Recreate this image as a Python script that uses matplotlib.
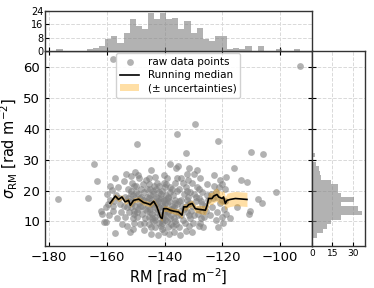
import numpy as np
import matplotlib
matplotlib.use("Agg")
import matplotlib.pyplot as plt

# Puntos (RM, sigma_RM)
rm = [-177.1, -166.7, -164.5, -163.4, -161.7, -162.0, -161.0,
      -160.2, -159.5, -159.0, -160.0, -159.3, -158.8, -160.4,
      -157.9, -157.1, -158.2, -157.5, -156.8, -158.0, -157.3, -156.6, -157.8,
      -155.8, -155.0, -156.0, -154.8, -155.4,
      -153.9, -153.2, -152.8, -153.6, -152.5, -154.0, -153.0, -152.3, -153.4, -152.7, -154.1,
      -151.9, -151.7, -151.5, -151.2, -150.8, -150.5, -151.0, -150.3, -151.8, -150.7,
      -151.4, -150.2, -151.1, -150.6, -151.6, -150.4, -151.3, -150.9, -150.1,
      -149.5, -149.0, -148.5, -149.2, -148.2, -149.7, -148.8, -148.0, -149.4, -148.4,
      -149.8, -148.6, -149.1, -148.1, -149.6,
      -147.2, -146.5, -147.0, -146.2, -147.5, -146.8, -146.0, -147.7, -146.4, -147.3,
      -146.1, -146.9, -147.6,
      -144.7, -144.6, -145.5, -145.0, -144.2, -145.3, -144.0, -145.6, -144.4, -145.1,
      -143.9, -144.8, -145.4, -144.1, -145.2, -143.8, -144.9, -145.7, -144.3, -145.0,
      -144.5, -143.7, -145.5,
      -143.0, -142.5, -142.0, -143.3, -142.2, -141.8, -143.5, -142.8, -142.0, -143.1,
      -141.7, -142.6, -143.4, -142.3, -141.9, -142.9, -143.2, -142.4, -142.7,
      -141.0, -140.5, -141.3, -140.0, -140.8, -139.8, -141.4, -140.2, -140.7, -141.1,
      -139.7, -140.4, -141.5, -140.1, -140.9, -139.6, -141.2, -140.6, -140.3, -139.9,
      -141.0, -140.4, -139.8,
      -138.0, -139.0, -138.5, -139.2, -138.2, -137.8, -139.4, -138.7, -137.6, -138.9,
      -138.3, -139.1, -137.9, -138.6, -139.3, -138.1, -137.7, -138.8, -139.0,
      -136.2, -135.7, -135.4, -137.0, -136.5, -136.8, -135.9, -137.2, -136.0, -136.6,
      -135.6, -137.1, -136.3, -135.8, -136.9, -136.4, -135.5, -137.3, -136.1, -136.7,
      -134.8, -134.2, -135.0, -133.6, -134.5, -133.9, -134.9, -133.4, -134.3, -135.1,
      -133.7, -134.6, -133.3,
      -132.5, -131.7, -132.8, -132.0, -131.5, -132.6, -131.3, -132.9, -131.8, -132.2,
      -131.4, -132.7, -131.9, -132.4, -131.2, -132.1, -131.6, -132.3,
      -129.5, -130.5, -130.0, -129.7, -130.7, -129.3, -130.2, -129.9, -130.8, -129.2, -130.4,
      -128.5, -128.0, -127.5, -128.7, -127.2, -128.2, -127.8, -127.0, -128.4, -127.4,
      -128.8, -127.6, -127.1, -128.1,
      -126.0, -125.5, -126.4, -125.2, -125.8, -126.6, -125.0,
      -124.0, -123.5, -123.0, -124.4, -123.2, -122.8,
      -121.5, -122.0, -121.8, -121.2, -122.3, -121.0, -120.8, -121.6, -122.1,
      -120.0, -119.5, -119.0, -120.2, -118.8, -119.7, -119.2, -118.6, -120.3,
      -117.5, -116.1, -115.0, -113.5,
      -110.1, -111.5, -110.9, -110.3, -106.0, -107.6, -106.3, -101.3, -93.0]

sigma = [17.1, 17.5, 28.5, 23.1, 12.5, 13.5, 9.8,
         9.8, 15.5, 17.0, 19.0, 12.0, 21.5, 14.5,
         62.7, 6.2, 20.1, 16.5, 18.5, 13.5, 24.0, 11.0, 15.0,
         17.5, 13.0, 21.0, 9.0, 15.5,
         18.0, 14.5, 20.5, 11.5, 16.5, 23.0, 8.5, 13.0, 25.5, 17.5, 15.0,
         6.5, 24.7, 19.0, 16.0, 13.5, 21.5, 11.0, 17.5, 14.5, 9.5,
         22.5, 15.0, 18.5, 12.5, 20.0, 26.0, 16.5, 7.5, 19.5,
         35.0, 23.9, 17.5, 14.0, 20.5, 11.5, 16.0, 12.5, 19.0, 9.0,
         21.5, 15.0, 25.0, 18.0, 13.0,
         7.3, 16.5, 19.5, 13.5, 22.0, 11.0, 18.0, 15.0, 23.5, 9.5,
         20.5, 14.0, 17.0,
         8.1, 26.6, 17.5, 14.0, 20.0, 11.5, 15.5, 22.0, 12.5, 18.5,
         10.0, 16.0, 24.0, 19.0, 13.0, 21.5, 6.0, 15.0, 17.0, 20.5,
         11.0, 14.5, 9.0,
         18.0, 14.0, 21.5, 11.5, 16.5, 9.5, 24.5, 13.0, 19.5, 15.5,
         12.0, 22.5, 8.0, 17.5, 14.5, 20.5, 10.5, 5.5, 16.0,
         10.5, 14.5, 17.5, 12.0, 20.0, 16.0, 8.5, 22.5, 11.0, 15.0,
         18.5, 6.5, 13.0, 25.0, 9.5, 14.0, 19.0, 16.5, 12.5, 21.0,
         7.5, 17.0, 10.5,
         28.5, 13.5, 16.5, 10.0, 19.5, 12.0, 22.0, 8.0, 15.0, 18.0,
         11.0, 24.0, 14.0, 6.0, 16.0, 21.0, 9.0, 13.0, 17.5,
         27.4, 38.4, 27.8, 14.0, 17.0, 11.0, 20.0, 8.5, 13.0, 22.5,
         15.5, 18.5, 10.0, 24.0, 6.5, 16.0, 12.0, 20.5, 9.0, 14.5,
         13.5, 17.0, 20.5, 10.5, 24.0, 15.0, 8.0, 19.0, 12.0, 16.5,
         22.5, 5.5, 14.0,
         32.1, 27.2, 14.5, 18.0, 12.0, 21.0, 16.0, 9.5, 23.5, 13.0,
         19.5, 7.0, 15.5, 25.5, 11.0, 17.0, 8.5, 20.0,
         41.5, 15.0, 19.0, 12.0, 22.5, 16.5, 9.5, 25.5, 13.5, 18.0, 6.5,
         14.0, 17.5, 11.0, 21.0, 15.5, 8.5, 24.0, 19.5, 12.5, 16.5,
         26.5, 9.5, 13.5, 20.5,
         15.0, 18.5, 11.5, 22.0, 13.5, 8.0, 17.0,
         19.0, 14.5, 21.5, 12.0, 17.5, 25.0,
         36.0, 18.0, 13.0, 21.0, 10.5, 16.0, 23.5, 8.0, 19.5,
         17.0, 14.0, 20.5, 11.5, 24.5, 9.5, 16.5, 12.5, 22.0,
         11.0, 27.2, 14.5, 23.5,
         32.6, 22.8, 12.5, 13.2, 31.8, 17.1, 16.1, 19.5, 60.5]

# Mediana movil y su incertidumbre
med_x = [-158.9, -157.1, -156.0, -154.8, -153.7, -152.5, -151.9, -150.8, -149.0,
         -147.3, -146.1, -145.0, -143.8, -142.7, -141.5, -140.9, -140.4, -139.2,
         -138.1, -136.9, -135.2, -134.0, -133.4, -132.3, -131.7, -130.5, -129.4,
         -128.2, -125.9, -125.3, -124.8, -123.6, -123.0, -121.9, -121.3, -120.1,
         -119.6, -119.0, -118.4, -117.3, -115.5, -111.5]
med_y = [15.9, 18.2, 17.1, 17.9, 16.3, 16.8, 15.2, 16.8, 17.2,
         16.1, 15.8, 15.4, 16.5, 14.7, 11.4, 10.9, 14.1, 14.1,
         13.6, 13.3, 13.0, 12.0, 14.7, 14.7, 15.4, 15.8, 14.1,
         13.9, 13.6, 15.2, 17.4, 17.4, 18.2, 18.7, 17.9, 17.4,
         17.9, 15.8, 16.8, 17.1, 17.4, 17.1]
med_err = [0.8, 0.8, 0.8, 0.8, 0.8, 0.8, 0.8, 0.8, 0.8,
           0.8, 0.8, 0.8, 0.8, 0.9, 0.9, 0.9, 0.9, 0.9,
           0.9, 0.9, 1.0, 1.0, 1.0, 1.0, 1.0, 1.1, 1.2,
           1.3, 1.5, 1.8, 1.9, 2.0, 2.1, 2.2, 2.2, 2.2,
           2.2, 2.2, 2.3, 2.3, 2.3, 2.3]

# Histogramas (cuentas por bin)
rm_edges = np.linspace(-177.5, -93.0, 41)
rm_counts = [1, 0, 0, 0, 0, 1, 2, 3, 7, 9, 5, 11, 19, 15, 13, 23, 19, 23, 19, 20,
             13, 18, 11, 14, 7, 6, 9, 9, 1, 2, 1, 3, 0, 3, 0, 0, 1, 0, 0, 1]
sig_edges = np.linspace(4.7, 62.7, 41)
sig_counts = [4, 8, 11, 14, 21, 37, 34, 21, 31, 21, 19, 19, 14, 7, 6, 5, 3, 1, 2, 1,
              1, 0, 1, 0, 1, 1, 0, 0, 0, 0, 0, 0, 0, 0, 0, 0, 0, 0, 1, 1]

grid_kw = dict(color="0.85", linestyle="--", linewidth=0.7)

fig = plt.figure(figsize=(3.74, 2.88), dpi=100)
ax = fig.add_axes([0.120, 0.146, 0.714, 0.677])
ax_top = fig.add_axes([0.120, 0.823, 0.714, 0.139], sharex=ax)
ax_right = fig.add_axes([0.834, 0.146, 0.142, 0.677], sharey=ax)

ax.scatter(rm, sigma, s=24, color="gray", alpha=0.6, linewidths=0,
           label="raw data points", zorder=2)
ax.fill_between(med_x, np.array(med_y) - np.array(med_err),
                np.array(med_y) + np.array(med_err), color="orange",
                alpha=0.35, linewidth=0, label="(\u00b1 uncertainties)", zorder=3)
ax.plot(med_x, med_y, color="black", linewidth=1.2, label="Running median", zorder=4)

ax.set_xlim(-181.5, -89)
ax.set_ylim(2, 65.3)
ax.set_xticks([-180, -160, -140, -120, -100])
ax.set_yticks([10, 20, 30, 40, 50, 60])
ax.grid(True, **grid_kw)
ax.set_axisbelow(True)
ax.tick_params(direction="in", top=True, right=True, labelsize=9.5, length=3)
ax.set_xlabel(r"RM [rad m$^{-2}$]", fontsize=10.5, labelpad=2)
ax.set_ylabel(r"$\sigma_{\rm RM}$ [rad m$^{-2}$]", fontsize=10.5, labelpad=2)

handles, labels = ax.get_legend_handles_labels()
order = [labels.index("raw data points"), labels.index("Running median"),
         labels.index("(\u00b1 uncertainties)")]
ax.legend([handles[i] for i in order], [labels[i] for i in order],
          loc="upper center", fontsize=7.5, borderaxespad=0.2,
          handlelength=1.8, labelspacing=0.3, framealpha=0.9)

ax_top.bar(rm_edges[:-1], rm_counts, width=np.diff(rm_edges), align="edge",
           color="0.5", alpha=0.6, linewidth=0)
ax_top.set_ylim(0, 24)
ax_top.set_yticks([0, 8, 16, 24])
ax_top.grid(True, **grid_kw)
ax_top.set_axisbelow(True)
ax_top.tick_params(direction="in", labelbottom=False, labelsize=7, length=3, pad=1)

ax_right.barh(sig_edges[:-1], sig_counts, height=np.diff(sig_edges), align="edge",
              color="0.5", alpha=0.6, linewidth=0)
ax_right.set_xlim(0, 39)
ax_right.set_xticks([0, 15, 30])
ax_right.grid(True, **grid_kw)
ax_right.set_axisbelow(True)
ax_right.tick_params(direction="in", labelleft=False, labelsize=6.5, length=3, pad=2)

for a in [ax, ax_top, ax_right]:
    for sp in a.spines.values():
        sp.set_linewidth(1.0)
        sp.set_color("0.2")

fig.savefig("out.png", dpi=100)
